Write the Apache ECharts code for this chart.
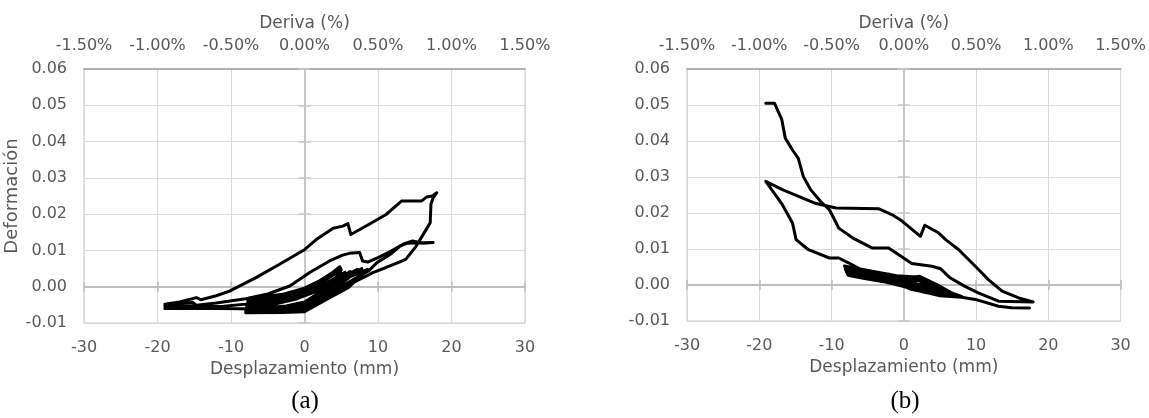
<!DOCTYPE html>
<html>
<head>
<meta charset="utf-8">
<title>Deformación vs desplazamiento</title>
<script src="https://cdn.jsdelivr.net/npm/echarts@6/dist/echarts.min.js"></script>
<style>
  html, body { margin: 0; padding: 0; background: #ffffff; }
  #chart { width: 1149px; height: 418px; }
</style>
</head>
<body>
<div id="chart"></div>
<script>
// ---------------------------------------------------------------
// Datos: pares [desplazamiento (mm), deformación]
// ---------------------------------------------------------------

// (a) ciclos pequeños de ±8 mm
const ciclosPequenosA = [
  [0.0,-0.0010],[2.0,0.0016],[4.5,0.0048],[4.8,0.0055],
  [3.0,0.0026],[0.0,-0.0004],[-3.0,-0.0021],[-6.0,-0.0029],[-7.6,-0.0031],
  [-7.8,-0.0055],[-5.0,-0.0061],[-2.0,-0.0062],[0.0,-0.0058],[2.0,-0.0030],[4.0,0.0014],[4.9,0.0051],
  [3.0,0.0021],[0.0,-0.0009],[-3.0,-0.0025],[-6.0,-0.0035],[-7.7,-0.0040],
  [-7.9,-0.0063],[-4.0,-0.0066],[-1.0,-0.0066],[0.5,-0.0057],[2.5,-0.0025],[4.5,0.0024],[5.0,0.0047],
  [2.5,0.0014],[0.0,-0.0013],[-3.0,-0.0029],[-6.0,-0.0039],[-7.6,-0.0046],
  [-7.8,-0.0068],[-3.0,-0.0068],[0.0,-0.0066],[2.0,-0.0040],[4.0,-0.0006],[6.0,0.0024],[7.2,0.0048],
  [5.0,0.0024],[2.0,-0.0003],[0.0,-0.0019],[-3.0,-0.0033],[-6.0,-0.0043],[-7.8,-0.0051],
  [-8.0,-0.0070],[-4.0,-0.0070],[0.0,-0.0068],[2.5,-0.0038],[5.0,-0.0008],[7.0,0.0018],[8.3,0.0045],
  [6.0,0.0026],[3.0,0.0003],[0.0,-0.0023],[-3.0,-0.0037],[-6.0,-0.0049],[-7.9,-0.0058],
  [-7.9,-0.0066],[-5.0,-0.0064],[-2.0,-0.0060],[0.0,-0.0050],[2.0,-0.0022],[4.0,0.0008],[5.5,0.0040],
  [3.5,0.0016],[1.0,-0.0012],[-2.0,-0.0030],[-5.0,-0.0045],[-7.5,-0.0056],
  [-7.7,-0.0064],[-4.0,-0.0060],[-1.0,-0.0055],[1.0,-0.0042],[3.0,-0.0015],[5.5,0.0020],[7.8,0.0050],
  [6.5,0.0038],[4.0,0.0012],[1.5,-0.0010],[-1.0,-0.0028],[-4.0,-0.0041],[-7.4,-0.0052],
  [-7.6,-0.0060],[-5.0,-0.0057],[-2.5,-0.0053],[0.0,-0.0042],[2.0,-0.0017],[4.0,0.0010],[6.2,0.0042],
  [5.0,0.0017],[2.0,-0.0010],[-1.0,-0.0033],[-4.0,-0.0048],[-7.6,-0.0062],
  [-8.0,-0.0072],[-3.0,-0.0071],[0.0,-0.0069],[3.0,-0.0035],[6.0,-0.0002],[8.6,0.0048]
];

// (a) ciclo de ±17.5 mm
const cicloMedioA = [
  [6.0,0.0027],[3.0,0.0004],[0.0,-0.0021],[-4.0,-0.0036],[-8.0,-0.0048],[-11.0,-0.0054],
  [-14.5,-0.0055],[-15.2,-0.0043],[-17.0,-0.0048],[-19.0,-0.0053],
  [-19.0,-0.0058],[-15.0,-0.0059],[-10.0,-0.0060],[-6.0,-0.0063],[-2.0,-0.0065],[0.0,-0.0064],
  [2.0,-0.0040],[4.0,-0.0012],[6.0,0.0012],[8.8,0.0045],[9.9,0.0067],[11.6,0.0088],
  [13.0,0.0112],[14.0,0.0120],[16.0,0.0121],[17.5,0.0122],
  [16.1,0.0120],[14.7,0.0126],[13.4,0.0117],[11.6,0.0096],[10.0,0.0080],[8.6,0.0068],
  [7.9,0.0071],[7.5,0.0094],[6.1,0.0092],[5.2,0.0087],[3.4,0.0071],[0.7,0.0039],
  [-2.0,0.0002],[-5.0,-0.0020],[-8.0,-0.0033],[-12.0,-0.0045],[-15.0,-0.0052],
  [-17.0,-0.0056],[-19.0,-0.0060]
];

// (a) ciclo de ±18 mm
const cicloGrandeA = [
  [-19.0,-0.0062],[-16.0,-0.0060],[-12.0,-0.0060],[-8.0,-0.0061],[-4.0,-0.0064],[0.0,-0.0066],
  [1.5,-0.0050],[4.0,-0.0018],[7.0,0.0015],[9.3,0.0039],[11.1,0.0053],[12.9,0.0068],
  [13.8,0.0076],[15.2,0.0112],[16.3,0.0149],[17.1,0.0176],[17.2,0.0227],[17.5,0.0245],[18.0,0.0259],
  [17.4,0.0250],[16.6,0.0247],[15.9,0.0236],[13.2,0.0236],[11.1,0.0199],[8.8,0.0172],
  [6.3,0.0144],[5.9,0.0174],[5.2,0.0167],[3.9,0.0161],[1.6,0.0130],[0.0,0.0102],
  [-3.4,0.0062],[-6.6,0.0025],[-10.2,-0.0012],[-12.0,-0.0025],[-14.1,-0.0036],
  [-14.7,-0.0030],[-17.0,-0.0042],[-19.0,-0.0048]
];

// (b) rama inferior y ciclos pequeños de ±8 mm
const ciclosPequenosB = [
  [17.4,-0.0064],[14.9,-0.0063],[13.1,-0.0059],[9.9,-0.0040],[8.0,-0.0034],
  [5.0,-0.0030],[3.0,-0.0020],[1.0,-0.0012],[0.0,-0.0003],[-3.0,0.0011],[-6.0,0.0021],[-7.6,0.0028],
  [-8.2,0.0053],[-5.0,0.0038],[-2.0,0.0030],[0.0,0.0018],[2.2,0.0024],[4.5,0.0002],[6.5,-0.0020],
  [5.0,-0.0027],[2.0,-0.0013],[0.0,-0.0001],[-3.0,0.0013],[-6.0,0.0023],[-7.7,0.0030],
  [-8.0,0.0050],[-5.0,0.0036],[-2.0,0.0027],[0.0,0.0015],[2.0,0.0021],[4.0,0.0004],[5.0,-0.0011],
  [4.0,-0.0019],[2.0,-0.0010],[0.0,0.0001],[-3.0,0.0015],[-6.0,0.0025],[-7.8,0.0031],
  [-7.8,0.0047],[-4.0,0.0034],[-1.0,0.0023],[1.5,0.0019],[4.0,-0.0001],[7.0,-0.0025],[8.0,-0.0032],
  [6.0,-0.0031],[3.0,-0.0021],[0.0,-0.0004],[-3.0,0.0010],[-6.0,0.0020],[-7.7,0.0027],
  [-8.1,0.0045],[-5.0,0.0032],[-2.0,0.0024],[1.0,0.0011],[2.5,0.0016],[5.0,-0.0008],[6.0,-0.0018],
  [4.0,-0.0012],[1.0,0.0004],[-2.0,0.0019],[-5.0,0.0029],[-7.9,0.0035],
  [-8.0,0.0042],[-5.0,0.0030],[-2.0,0.0021],[0.5,0.0008],[2.0,0.0013],[4.5,-0.0009],[7.5,-0.0030],
  [5.5,-0.0024],[2.5,-0.0010],[0.0,0.0005],[-3.0,0.0018],[-6.0,0.0027],[-7.9,0.0040],
  [-7.5,0.0050],[-4.0,0.0037],[-1.0,0.0026],[1.8,0.0022],[3.5,0.0008],[5.5,-0.0014],[4.0,-0.0007],
  [1.0,0.0007],[-2.0,0.0019],[-5.0,0.0033],[-7.6,0.0061]
];

// (b) ciclo hasta -19 mm con pico en 0.029
const cicloMedioB = [
  [-9.0,0.0075],[-10.3,0.0075],[-13.2,0.0098],[-14.9,0.0126],[-15.4,0.0172],[-16.8,0.0223],[-19.1,0.0288],
  [-16.8,0.0265],[-12.4,0.0228],[-9.4,0.0214],[-3.5,0.0212],[-1.6,0.0195],[-0.2,0.0177],
  [2.3,0.0135],[2.9,0.0166],[4.8,0.0145],[5.8,0.0126],[7.6,0.0098],[9.9,0.0052],
  [11.7,0.0015],[13.6,-0.0017],[15.9,-0.0036],[17.9,-0.0047]
];

// (b) rama hasta el pico de 0.05
const cicloGrandeB = [
  [13.1,-0.0045],[10.3,-0.0022],[8.4,-0.0003],[6.4,0.0020],[5.1,0.0045],[3.9,0.0052],
  [1.1,0.0060],[-0.7,0.0084],[-2.1,0.0103],[-4.4,0.0103],[-7.1,0.0131],[-9.0,0.0158],
  [-9.7,0.0186],[-10.3,0.0209],[-11.5,0.0232],[-12.9,0.0265],[-13.9,0.0301],[-14.6,0.0352],
  [-15.4,0.0375],[-16.4,0.0408],[-16.9,0.0461],[-17.9,0.0505],[-19.1,0.0505]
];

const registroA = ciclosPequenosA.concat(cicloMedioA, cicloGrandeA);
const registroB = ciclosPequenosB.concat(cicloMedioB, cicloGrandeB);

// ---------------------------------------------------------------
// Estilo
// ---------------------------------------------------------------
const FUENTE = 'DejaVu Sans';
const TEXTO = '#595959';
const REJILLA = '#d9d9d9';
const EJE_CERO = '#bfbfbf';

const etiqueta = (extra) => Object.assign({ color: TEXTO, fontSize: 16, fontFamily: FUENTE }, extra);

// Ejes horizontales de un panel: principal (abajo), deriva (arriba) y eje en y = 0 con marcas cruzadas
function ejesX(grid, yPrincipal, gapNombre) {
  const ceroBase = {
    gridIndex: grid, type: 'value', position: 'bottom', min: -30, max: 30, interval: 10,
    axisLabel: { show: false }, splitLine: { show: false }
  };
  return [
    {
      gridIndex: grid, type: 'value', position: 'bottom', min: -30, max: 30, interval: 10,
      name: 'Desplazamiento (mm)', nameLocation: 'middle', nameGap: gapNombre,
      nameTextStyle: { color: TEXTO, fontSize: 17, fontFamily: FUENTE },
      axisLine: { show: false, onZero: false }, axisTick: { show: false },
      axisLabel: etiqueta({ margin: 17 }),
      splitLine: { show: true, lineStyle: { color: REJILLA, width: 1 } }
    },
    {
      gridIndex: grid, type: 'value', position: 'top', min: -1.5, max: 1.5, interval: 0.5,
      name: 'Deriva (%)', nameLocation: 'middle', nameGap: 37,
      nameTextStyle: { color: TEXTO, fontSize: 17, fontFamily: FUENTE },
      axisLine: { show: true, onZero: false, lineStyle: { color: '#b0b0b0', width: 2 } },
      axisTick: { show: false },
      axisLabel: etiqueta({ margin: 15, formatter: (v) => (Math.abs(v) < 1e-9 ? 0 : v).toFixed(2) + '%' }),
      splitLine: { show: false }
    },
    Object.assign({}, ceroBase, {
      axisLine: { show: true, onZero: true, onZeroAxisIndex: yPrincipal, lineStyle: { color: EJE_CERO, width: 2 } },
      axisTick: { show: true, inside: false, length: 5, lineStyle: { color: EJE_CERO, width: 1.5 } }
    }),
    Object.assign({}, ceroBase, {
      axisLine: { show: true, onZero: true, onZeroAxisIndex: yPrincipal, lineStyle: { color: EJE_CERO, width: 2 } },
      axisTick: { show: true, inside: true, length: 5, lineStyle: { color: EJE_CERO, width: 1.5 } }
    })
  ];
}

// Ejes verticales de un panel: principal (izquierda) y eje en x = 0 con marcas cruzadas
function ejesY(grid, xPrincipal, conNombre) {
  const ceroBase = {
    gridIndex: grid, type: 'value', position: 'left', min: -0.01, max: 0.06, interval: 0.01,
    axisLabel: { show: false }, splitLine: { show: false }
  };
  const principal = {
    gridIndex: grid, type: 'value', position: 'left', min: -0.01, max: 0.06, interval: 0.01,
    axisLine: { show: false, onZero: false }, axisTick: { show: false },
    axisLabel: etiqueta({ margin: 17, formatter: (v) => (Math.abs(v) < 1e-9 ? 0 : v).toFixed(2) }),
    splitLine: { show: true, lineStyle: { color: REJILLA, width: 1 } }
  };
  if (conNombre) {
    Object.assign(principal, {
      name: 'Deformación', nameLocation: 'middle', nameGap: 58,
      nameTextStyle: { color: TEXTO, fontSize: 18, fontFamily: FUENTE }
    });
  }
  return [
    principal,
    Object.assign({}, ceroBase, {
      axisLine: { show: true, onZero: true, onZeroAxisIndex: xPrincipal, lineStyle: { color: '#c8c8c8', width: 2 } },
      axisTick: { show: true, inside: false, length: 6, lineStyle: { color: '#c8c8c8', width: 1.5 } }
    }),
    Object.assign({}, ceroBase, {
      axisLine: { show: true, onZero: true, onZeroAxisIndex: xPrincipal, lineStyle: { color: '#c8c8c8', width: 2 } },
      axisTick: { show: true, inside: true, length: 6, lineStyle: { color: '#c8c8c8', width: 1.5 } }
    })
  ];
}

const trazo = (datos, xi, yi) => ({
  type: 'line', data: datos, xAxisIndex: xi, yAxisIndex: yi,
  showSymbol: false, symbol: 'none', smooth: false, clip: true,
  lineStyle: { color: '#000000', width: 3, join: 'round', cap: 'round' },
  emphasis: { disabled: true }, z: 5
});

const option = {
  animation: false,
  backgroundColor: '#ffffff',
  grid: [
    { left: 84, top: 69, width: 441, height: 254, show: true, borderColor: '#c4c4c4', borderWidth: 1 },
    { left: 687, top: 69, width: 436, height: 252, show: true, borderColor: '#c4c4c4', borderWidth: 1 }
  ],
  xAxis: ejesX(0, 0, 36).concat(ejesX(1, 3, 37)),
  yAxis: ejesY(0, 0, true).concat(ejesY(1, 4, false)),
  series: [
    trazo(registroA, 0, 0),
    trazo(registroB, 4, 3)
  ],
  graphic: [
    { type: 'text', x: 305, y: 401, style: { text: '(a)', fontSize: 25, fontFamily: 'Liberation Serif', fill: '#000', align: 'center', verticalAlign: 'middle' } },
    { type: 'text', x: 905, y: 401, style: { text: '(b)', fontSize: 25, fontFamily: 'Liberation Serif', fill: '#000', align: 'center', verticalAlign: 'middle' } }
  ]
};

const chart = echarts.init(document.getElementById('chart'), null, { renderer: 'canvas' });
chart.setOption(option);
</script>
</body>
</html>
